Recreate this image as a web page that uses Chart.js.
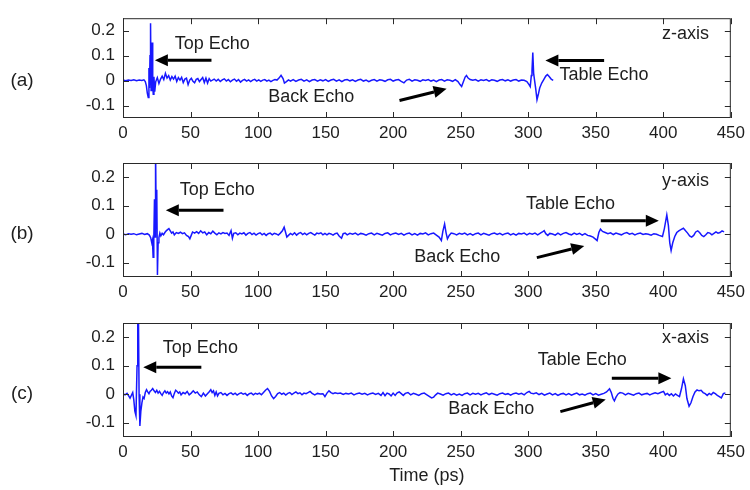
<!DOCTYPE html>
<html>
<head>
<meta charset="utf-8">
<script src="https://cdn.jsdelivr.net/npm/chart.js@4.4.1/dist/chart.umd.min.js"></script>
<style>
  html, body { margin: 0; padding: 0; background: #fff; }
  #wrap { position: relative; width: 750px; height: 490px; overflow: hidden; }
  canvas { position: absolute; left: 0; }
</style>
</head>
<body>
<div id="wrap">
  <canvas id="zAxisChart" width="750" height="142" style="top:0px"></canvas>
  <canvas id="yAxisChart" width="750" height="159" style="top:142px"></canvas>
  <canvas id="xAxisChart" width="750" height="189" style="top:301px"></canvas>
</div>
<script>
// tick labels
const timeTicks = [0, 50, 100, 150, 200, 250, 300, 350, 400, 450];
const ampTicks = [-0.1, 0, 0.1, 0.2];

// (a) z-axis trace
const zTime = [0, 2, 4, 6, 8, 10, 12, 14, 15.5, 16.5, 17.3, 18, 18.7, 19.2, 19.6, 20.0, 20.4, 20.8, 21.2, 21.6,
  22.0, 22.4, 22.9, 23.5, 24.2, 25.4, 26.6, 27.8, 29, 30.2, 31.4, 32.6, 33.8, 35, 36.2, 37.4, 38.6, 39.8, 41, 42.2,
  43.4, 44.6, 45.8, 47, 48.2, 49.4, 50.6, 51.8, 53, 54.2, 55.4, 56.6, 57.8, 59, 60.2, 61.4, 62.6, 63.8, 65, 67.5,
  69, 70.5, 72, 73.5, 75, 76.5, 78, 79.5, 81, 82.5, 84, 85.5, 87, 88.5, 90, 91.5, 93, 94.5, 96, 97.5, 99, 100.5,
  102, 103.5, 105, 106.5, 108, 109.5, 111, 112.5, 114, 115.5, 117, 118.5, 119.5, 121, 122.5, 124, 126, 128, 130, 132,
  134, 136, 138, 140, 142, 144, 146, 148, 150, 152, 154, 156, 158, 160, 162, 164, 166, 168, 170, 172,
  174, 176, 178, 180, 182, 184, 186, 188, 190, 192, 194, 196, 198, 200, 202, 204, 206, 208, 210, 212,
  214, 216, 218, 220, 222, 224, 226, 228, 230, 232, 234, 236, 238, 240, 242, 244, 246, 248, 249.5, 250.7,
  252, 253.3, 254.3, 255.5, 257, 259, 261, 263, 265, 267, 269, 271, 273, 275, 277, 279, 281, 283, 285, 287,
  289, 291, 293, 295, 297, 299, 300.5, 301.5, 302.3, 302.8, 303.4, 304.0, 304.6, 305.5, 306.5, 307.5, 308.5, 310, 311.5, 313,
  314.2, 315.5, 317, 318.5];
const zAmp = [0.002, -0.001, 0.002, 0.000, 0.003, -0.001, 0.002, 0.000, 0.003, -0.004, -0.02, -0.05, -0.068, 0.05, -0.03, 0.1, 0.23, -0.04, 0.05, 0.153,
  -0.02, -0.055, 0.015, -0.045, -0.005, 0.012, -0.012, 0.006, 0.018, 0.004, 0.029, 0.01, 0.02, 0.002, 0.016, 0.006, 0.018, -0.004, 0.012, 0.002,
  0.013, -0.008, 0.006, 0.01, -0.016, 0.002, 0.009, -0.003, -0.009, 0.005, 0.008, -0.004, 0.004, 0.012, -0.008, 0.01, -0.01, 0.008, -0.002, 0.006,
  -0.002, 0.005, -0.004, 0.003, 0.007, -0.002, 0.004, -0.005, 0.002, 0.006, -0.003, 0.004, -0.006, 0.001, 0.005, -0.002, 0.003, -0.004, 0.002, 0.005, -0.002, 0.003,
  -0.003, 0.002, 0.004, -0.002, 0.002, -0.004, 0.001, 0.004, 0.002, 0.01, 0.021, 0.008, -0.01, -0.004, 0.003, -0.002, 0.004, -0.003, 0.002, 0.005,
  -0.002, 0.003, -0.004, 0.002, 0.004, -0.002, 0.003, -0.001, 0.004, -0.003, 0.002, 0.005, -0.002, 0.003, -0.004, 0.002, 0.004, -0.001, 0.003, -0.003,
  0.002, 0.005, -0.002, 0.002, -0.004, 0.001, 0.004, -0.002, 0.003, 0.001, -0.003, 0.003, 0.005, -0.002, 0.002, 0.004, -0.003, -0.009, 0.002, 0.005,
  -0.002, 0.003, 0.001, -0.003, 0.003, 0.000, 0.004, -0.002, 0.002, -0.004, 0.002, 0.004, -0.002, 0.003, 0.001, -0.003, 0.004, -0.004, -0.016, -0.024,
  -0.005, 0.014, 0.02, 0.01, 0.004, 0.001, 0.004, -0.002, 0.003, 0.000, 0.004, -0.002, 0.003, 0.001, -0.003, 0.002, 0.004, -0.001, 0.003, -0.002,
  0.002, 0.004, -0.002, 0.002, 0.001, -0.004, -0.015, -0.024, 0.02, 0.04, 0.112, 0.03, 0.005, -0.03, -0.077, -0.055, -0.03, -0.01, 0.004, 0.018,
  0.024, 0.016, 0.006, 0.001];

// (b) y-axis trace
const yTime = [0, 2, 4, 6, 8, 10, 12, 14, 16, 18, 19.5, 20.5, 21.3, 21.8, 22.3, 22.8, 23.3, 23.7, 24.1, 24.6,
  25.0, 25.5, 26.0, 26.6, 27.3, 28, 29, 30, 31, 32, 33, 34, 35, 36, 37, 38, 39.5, 41, 42.5, 44,
  45.5, 47, 48.5, 49.5, 50.5, 51.5, 53, 54.5, 56, 57.5, 59, 60.5, 62, 63.5, 65, 66.5, 68, 69.5, 71, 72.5,
  74, 75.5, 77, 78.5, 80, 81, 82, 83.5, 85, 86.5, 88, 89.5, 91, 92.5, 94, 95.5, 97, 98.5, 100, 101.5,
  103, 104.5, 106, 107.5, 109, 110.5, 112, 113.5, 115, 116.5, 118, 119.3, 120.3, 121.3, 122.5, 124, 125.5, 127, 128.5, 130,
  131.5, 133, 134.5, 136, 137.5, 139, 140.5, 142, 143.5, 145, 146.5, 148, 149.5, 151, 152.5, 154, 155.5, 157, 158.5, 160,
  161.8, 163, 164.5, 166, 168, 170, 172, 174, 176, 178, 180, 182, 184, 186, 188, 190, 192, 194, 196, 198,
  200, 202, 204, 206, 208, 210, 212, 214, 216, 218, 220, 222, 224, 226, 228, 230, 232, 234, 235.7, 236.8,
  238.1, 239.2, 240.2, 241.5, 243, 245, 247, 249, 251, 253, 255, 257, 259, 261, 263, 265, 267, 269, 271, 273,
  275, 277, 279, 281, 283, 285, 287, 289, 291, 293, 295, 297, 299, 301, 303, 305, 307, 309, 310.5, 311.8,
  313, 314.5, 316, 318, 320, 322, 324, 326, 328, 330, 332, 334, 336, 338, 340, 342, 344, 346, 348, 350,
  351, 352.3, 353.5, 355, 357, 359, 361, 363, 365, 367, 369, 371, 373, 375, 377, 379, 381, 383, 385, 387,
  389, 391, 393, 395, 397, 399.4, 400.8, 402.6, 403.8, 404.8, 405.8, 407, 408.5, 410, 411.5, 413, 414.9, 416.5, 418, 419.5,
  421, 422.5, 424, 425.5, 427, 428.5, 430, 431.5, 433, 434.5, 436, 437.5, 439, 440.5, 442, 443.5, 445];
const yAmp = [0.001, -0.002, 0.002, 0.000, 0.002, -0.002, 0.001, 0.003, -0.001, 0.002, -0.003, -0.012, -0.03, -0.02, -0.081, -0.02, 0.123, -0.01, 0.31, 0.03,
  0.156, -0.143, -0.03, -0.012, 0.004, -0.006, 0.003, -0.002, 0.006, 0.012, 0.016, 0.02, 0.012, 0.004, 0.008, -0.002, 0.006, 0.003, 0.007, 0.002,
  0.005, -0.004, -0.008, -0.016, -0.004, 0.008, 0.004, 0.009, 0.003, 0.012, 0.005, 0.008, -0.002, 0.006, 0.002, 0.011, 0.004, -0.002, 0.005, 0.001,
  0.006, 0.003, 0.004, -0.004, 0.013, -0.014, 0.003, 0.005, -0.002, 0.004, 0.001, 0.005, -0.003, 0.003, 0.006, -0.001, 0.004, -0.003, 0.002, 0.005,
  -0.002, 0.003, -0.004, 0.002, 0.004, -0.002, 0.003, 0.001, -0.003, 0.004, 0.012, 0.025, 0.008, -0.01, -0.004, 0.003, -0.002, 0.005, -0.003, 0.003,
  0.006, -0.001, 0.004, -0.002, 0.003, 0.006, 0.001, -0.003, 0.004, 0.002, 0.005, -0.002, 0.003, -0.002, 0.003, 0.001, -0.003, 0.002, 0.004, -0.006,
  -0.014, 0.002, 0.004, -0.002, 0.003, 0.000, 0.004, -0.002, 0.003, 0.001, -0.003, 0.002, 0.004, -0.002, 0.003, 0.000, -0.003, 0.003, 0.005, -0.002,
  0.002, 0.004, -0.001, 0.003, -0.003, 0.002, 0.004, -0.002, 0.002, -0.003, 0.003, 0.001, 0.005, -0.002, 0.002, 0.004, -0.003, -0.01, -0.022, 0.01,
  0.036, 0.005, -0.016, -0.004, 0.004, 0.002, -0.002, 0.003, 0.000, 0.004, -0.002, 0.002, -0.003, 0.002, 0.004, -0.002, 0.003, 0.000, -0.003, 0.002,
  0.004, -0.001, 0.003, -0.002, 0.002, 0.004, -0.002, 0.002, -0.003, 0.003, 0.001, 0.004, -0.002, 0.003, 0.000, 0.004, -0.002, 0.004, 0.008, 0.013,
  0.002, -0.004, 0.003, 0.001, -0.003, 0.004, -0.002, 0.003, 0.006, 0.001, -0.002, 0.004, -0.001, 0.003, -0.003, 0.002, -0.004, -0.006, -0.01, -0.018,
  -0.022, 0.006, 0.018, 0.01, 0.006, 0.002, 0.005, -0.001, 0.004, 0.001, -0.002, 0.003, 0.006, 0.000, 0.003, -0.002, 0.002, 0.004, -0.001, 0.002,
  0.000, -0.003, 0.002, 0.000, -0.004, -0.008, 0.02, 0.068, 0.03, -0.03, -0.057, -0.03, -0.008, 0.006, 0.012, 0.016, 0.021, 0.012, 0.004, -0.006,
  -0.01, -0.004, 0.008, 0.012, 0.005, -0.004, -0.008, -0.002, 0.006, 0.004, -0.002, 0.003, 0.008, 0.004, 0.006, 0.012, 0.008];

// (c) x-axis trace
const xTime = [0, 1.5, 3, 4.2, 5.2, 6.2, 7.2, 8.0, 8.8, 9.6, 10.4, 10.9, 11.4, 11.9, 12.5, 13.2, 14, 14.8, 15.6, 16.5,
  17.4, 18.3, 19.2, 20, 21, 22, 23, 24, 25, 26, 27, 28, 29, 30, 31, 32, 33, 34, 35, 36,
  37, 38, 39, 40, 41, 42, 43, 44.5, 46, 47.5, 49, 50.5, 52, 53.5, 55, 56.5, 58, 59.5, 61, 62.5,
  64, 65, 66, 67, 68, 69, 70, 71, 72.5, 74, 75.5, 77, 78.5, 80, 81.5, 83, 84.5, 86, 87.5, 89,
  90.5, 92, 93.5, 95, 96.5, 98, 99.5, 101, 102.5, 104, 105.5, 107, 108.5, 110, 111.5, 113, 114.5, 116, 117.5, 119,
  120.5, 122, 123.5, 125, 126.5, 128, 129.5, 131, 132.5, 134, 135.5, 137, 138.5, 140, 142, 144, 146, 148, 149.5, 151,
  152.5, 154, 155.5, 157, 159, 161, 163, 165, 167, 169, 171, 173, 175, 177, 179, 181, 183, 185, 187, 189,
  191, 192.5, 194, 195.5, 197, 198.5, 200, 201.5, 203, 204.5, 206, 207.5, 209, 211, 213, 215, 217, 219, 221, 223,
  225, 227, 228.5, 230, 231.5, 233, 235, 237, 239, 241, 243, 245, 247, 249, 251, 253, 255, 257, 259, 261,
  263, 265, 267, 269, 271, 273, 275, 277, 279, 281, 283, 285, 287, 289, 291, 293, 295, 297, 299, 300.7,
  302, 304, 306, 308, 310, 312, 314, 316, 318, 320, 322, 324, 326, 328, 330, 332, 334, 336, 338, 340,
  342, 344, 346, 348, 350, 352, 354, 356, 358, 360.2, 361.5, 362.8, 363.8, 365, 366.5, 368, 370, 372, 374, 376,
  378, 380, 382, 384, 386, 388, 390, 392, 394, 396, 398, 400.2, 401.5, 403, 404.5, 406, 407.5, 409, 410.5, 412,
  413.5, 414.9, 416.3, 417.5, 419.1, 420.5, 422, 423.5, 425, 426.5, 428, 429.5, 431, 432.5, 434, 435.5, 437, 438.5, 440, 441.5,
  443, 444.5, 446];
const xAmp = [0.002, -0.002, 0.003, -0.006, -0.014, -0.004, 0.006, -0.02, -0.06, -0.075, 0.1, 0.32, 0.3, 0.0, -0.111, -0.06, -0.03, -0.01, -0.015, 0.006,
  0.016, 0.008, 0.002, 0.01, 0.014, 0.02, 0.012, 0.006, 0.014, 0.004, 0.01, 0.002, -0.004, 0.006, 0.012, 0.004, 0.009, 0.001, 0.008, -0.006,
  -0.012, 0.003, 0.014, 0.01, 0.004, 0.008, -0.002, 0.006, 0.002, 0.01, -0.002, 0.004, 0.012, 0.004, 0.008, -0.002, -0.008, 0.004, -0.006, 0.002,
  0.01, 0.016, 0.006, 0.012, -0.004, 0.008, -0.006, 0.003, 0.006, -0.002, 0.003, -0.004, 0.002, 0.005, -0.001, 0.004, -0.003, 0.002, 0.005, 0.000,
  0.003, -0.004, 0.002, 0.004, -0.002, 0.003, 0.000, 0.004, -0.002, 0.006, 0.014, 0.02, 0.01, -0.006, -0.015, -0.008, 0.002, 0.006, 0.000, 0.004,
  -0.003, 0.003, 0.006, -0.001, 0.004, 0.008, 0.002, 0.005, -0.002, 0.004, 0.002, 0.006, 0.010, 0.003, -0.002, 0.003, 0.001, 0.002, -0.008, 0.004,
  0.012, 0.006, 0.002, 0.005, 0.003, 0.004, -0.001, 0.003, 0.001, 0.004, -0.002, 0.002, 0.004, 0.000, 0.003, -0.002, 0.002, 0.004, -0.001, 0.003,
  -0.004, 0.006, -0.005, 0.004, 0.001, -0.006, 0.004, -0.004, 0.005, 0.008, 0.002, -0.004, 0.003, 0.006, -0.002, 0.003, 0.000, -0.004, 0.002, 0.004,
  -0.002, -0.008, -0.013, -0.01, -0.002, 0.004, 0.001, -0.003, 0.002, 0.004, -0.002, 0.002, -0.003, 0.001, -0.004, 0.002, 0.004, -0.002, 0.003, 0.000,
  0.003, -0.002, 0.002, 0.005, -0.001, 0.003, 0.000, -0.003, 0.002, 0.004, -0.001, 0.002, -0.003, 0.002, 0.004, 0.000, 0.003, -0.002, 0.006, 0.01,
  0.004, 0.002, 0.005, -0.001, 0.003, -0.003, 0.001, 0.004, -0.002, 0.002, -0.004, 0.001, 0.003, -0.002, 0.002, -0.003, 0.001, 0.004, -0.002, 0.001,
  -0.003, 0.002, 0.004, -0.002, 0.002, -0.003, 0.000, 0.003, 0.008, 0.019, 0.006, -0.015, -0.023, -0.01, 0.001, 0.006, 0.004, -0.002, 0.003, 0.000,
  -0.003, 0.002, 0.004, -0.002, 0.001, 0.003, -0.002, 0.002, 0.005, 0.002, 0.006, 0.01, -0.002, 0.003, -0.004, 0.002, -0.006, 0.001, -0.004, -0.008,
  0.02, 0.054, 0.03, -0.015, -0.042, -0.03, -0.008, 0.008, 0.015, 0.012, 0.014, 0.006, 0.002, -0.004, 0.003, -0.002, 0.006, 0.002, -0.004, -0.008,
  -0.013, 0.002, 0.005];

const FONT = '"Liberation Sans", Arial, sans-serif';
const INK = '#1e1e1e';

// box, inward ticks, labels and arrows, placed in data units
const matlabFrame = {
  id: 'matlabFrame',
  afterDraw(chart, args, opts) {
    const {ctx, chartArea: a, scales: {x, y}} = chart;
    ctx.save();
    ctx.strokeStyle = '#2a2a2a';
    ctx.lineWidth = 1;
    ctx.strokeRect(a.left + 0.5, a.top + 0.5, a.width - 1, a.height - 1);
    ctx.beginPath();
    timeTicks.forEach(t => {
      const px = Math.round(x.getPixelForValue(t)) + 0.5;
      ctx.moveTo(px, a.bottom); ctx.lineTo(px, a.bottom - 6);
      ctx.moveTo(px, a.top); ctx.lineTo(px, a.top + 6);
    });
    ampTicks.forEach(v => {
      const py = Math.round(y.getPixelForValue(v)) + 0.5;
      ctx.moveTo(a.left, py); ctx.lineTo(a.left + 6, py);
      ctx.moveTo(a.right, py); ctx.lineTo(a.right - 6, py);
    });
    ctx.stroke();

    ctx.fillStyle = INK;
    ctx.textBaseline = 'middle';
    ctx.textAlign = 'center';
    ctx.font = '19px ' + FONT;
    ctx.fillText(opts.panel, 22, y.getPixelForValue(0));

    ctx.textBaseline = 'alphabetic';
    ctx.font = '18px ' + FONT;
    opts.notes.forEach(n => {
      ctx.textAlign = n.align || 'left';
      ctx.fillText(n.text, x.getPixelForValue(n.t), y.getPixelForValue(n.v));
    });

    ctx.strokeStyle = '#000';
    ctx.fillStyle = '#000';
    opts.arrows.forEach(ar => {
      const x0 = x.getPixelForValue(ar.from[0]), y0 = y.getPixelForValue(ar.from[1]);
      const x1 = x.getPixelForValue(ar.to[0]), y1 = y.getPixelForValue(ar.to[1]);
      const ang = Math.atan2(y1 - y0, x1 - x0);
      const head = 13, half = 6;
      const bx = x1 - head * Math.cos(ang), by = y1 - head * Math.sin(ang);
      ctx.lineWidth = 3;
      ctx.beginPath();
      ctx.moveTo(x0, y0); ctx.lineTo(bx, by);
      ctx.stroke();
      ctx.beginPath();
      ctx.moveTo(x1, y1);
      ctx.lineTo(bx + half * Math.sin(ang), by - half * Math.cos(ang));
      ctx.lineTo(bx - half * Math.sin(ang), by + half * Math.cos(ang));
      ctx.closePath();
      ctx.fill();
    });
    ctx.restore();
  }
};

function createEchoChart(id, times, amps, padTop, axisHeight, frame, showTitle) {
  new Chart(document.getElementById(id), {
    type: 'line',
    data: {
      datasets: [{
        data: times.map((t, i) => ({x: t, y: amps[i]})),
        borderColor: 'rgb(24, 24, 255)',
        borderWidth: 1.5,
        pointRadius: 0,
        tension: 0
      }]
    },
    options: {
      responsive: false,
      animation: false,
      layout: { padding: { top: padTop, right: 16, left: 0, bottom: 0 } },
      plugins: {
        legend: { display: false },
        tooltip: { enabled: false },
        matlabFrame: frame
      },
      scales: {
        x: {
          type: 'linear',
          min: 0,
          max: 450,
          afterBuildTicks: (scale) => { scale.ticks = timeTicks.map(v => ({value: v})); },
          afterFit: (scale) => { scale.height = axisHeight; },
          grid: { display: false, drawTicks: false },
          border: { display: false },
          ticks: { color: INK, font: { family: FONT, size: 17 }, padding: 5, maxRotation: 0 },
          title: {
            display: showTitle,
            text: 'Time (ps)',
            color: INK,
            font: { family: FONT, size: 18 },
            padding: { top: 0, bottom: 3 }
          }
        },
        y: {
          min: -0.15,
          max: 0.25,
          afterBuildTicks: (scale) => { scale.ticks = ampTicks.map(v => ({value: v})); },
          afterFit: (scale) => { scale.width = 123; },
          grid: { display: false, drawTicks: false },
          border: { display: false },
          ticks: {
            color: INK,
            font: { family: FONT, size: 17 },
            padding: 8,
            callback: (v) => v === 0 ? '0' : v.toFixed(1)
          }
        }
      }
    },
    plugins: [matlabFrame]
  });
}

createEchoChart('zAxisChart', zTime, zAmp, 4, 24, {
  panel: '(a)',
  notes: [
    {text: 'Top Echo', t: 38.3, v: 0.127},
    {text: 'Back Echo', t: 107.5, v: -0.086},
    {text: 'Table Echo', t: 323.1, v: 0.004},
    {text: 'z-axis', t: 433.8, v: 0.165, align: 'right'}
  ],
  arrows: [
    {from: [65.5, 0.081], to: [23.6, 0.081]},
    {from: [204.7, -0.080], to: [239.6, -0.033]},
    {from: [356.2, 0.080], to: [312.7, 0.080]}
  ]
}, false);

createEchoChart('yAxisChart', yTime, yAmp, 21, 24, {
  panel: '(b)',
  notes: [
    {text: 'Top Echo', t: 42, v: 0.138},
    {text: 'Back Echo', t: 215.6, v: -0.096},
    {text: 'Table Echo', t: 298.3, v: 0.088},
    {text: 'y-axis', t: 433.8, v: 0.169, align: 'right'}
  ],
  arrows: [
    {from: [74.4, 0.084], to: [31.7, 0.084]},
    {from: [306.4, -0.082], to: [341.5, -0.041]},
    {from: [353.7, 0.047], to: [396.7, 0.047]}
  ]
}, false);

createEchoChart('xAxisChart', xTime, xAmp, 22, 53, {
  panel: '(c)',
  notes: [
    {text: 'Top Echo', t: 29.5, v: 0.144},
    {text: 'Back Echo', t: 240.8, v: -0.069},
    {text: 'Table Echo', t: 307.1, v: 0.103},
    {text: 'x-axis', t: 433.8, v: 0.179, align: 'right'}
  ],
  arrows: [
    {from: [58, 0.095], to: [15, 0.095]},
    {from: [323.8, -0.061], to: [357.4, -0.018]},
    {from: [361.9, 0.056], to: [406, 0.056]}
  ]
}, true);
</script>
</body>
</html>
